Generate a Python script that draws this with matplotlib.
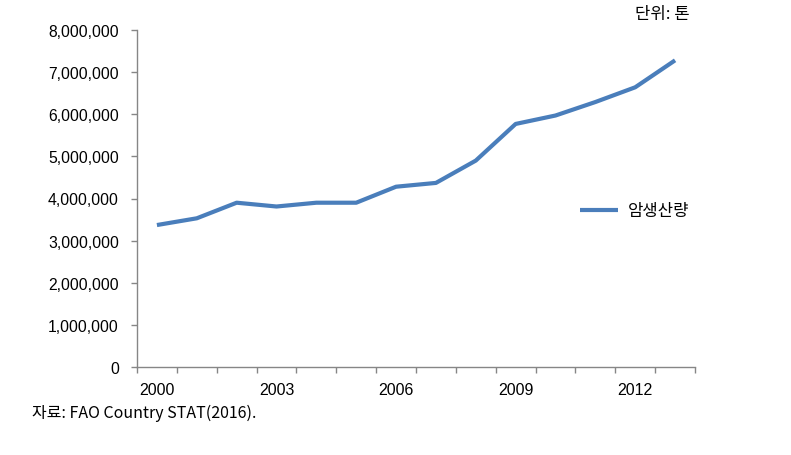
import numpy as np
import matplotlib.pyplot as plt
from matplotlib.ticker import FuncFormatter, FixedLocator

plt.rcParams['font.family'] = ['Liberation Sans', 'Noto Sans CJK KR', 'DejaVu Sans']

# data (tonnes)
years = list(range(2000, 2014))
production = [3370000, 3530000, 3900000, 3810000, 3900000, 3900000, 4280000,
              4370000, 4900000, 5770000, 5970000, 6290000, 6640000, 7280000]
tick_years = [2000, 2003, 2006, 2009, 2012]
series_name = '암생산량'

W, H = 791, 456
fig = plt.figure(figsize=(W / 100, H / 100), dpi=100)
ax = fig.add_axes([137 / W, (H - 368) / H, (695 - 137) / W, (368 - 31) / H])

x = np.arange(len(years))
ax.plot(x, production, color='#4a7ebb', linewidth=3, label=series_name,
        solid_joinstyle='round', solid_capstyle='butt')

ax.set_xlim(-0.5, len(years) - 0.5)
ax.set_ylim(0, 8000000)
ax.yaxis.set_major_locator(FixedLocator(np.arange(0, 8000001, 1000000)))
ax.yaxis.set_major_formatter(FuncFormatter(lambda v, p: f'{int(v):,}'))

# category axis: labels at every 3rd year, tick marks between categories
ax.set_xticks([years.index(y) for y in tick_years])
ax.set_xticklabels([str(y) for y in tick_years])
ax.set_xticks(np.arange(-0.5, len(years), 1), minor=True)
ax.tick_params(axis='x', which='major', length=0, pad=11, labelsize=11.5)
ax.tick_params(axis='x', which='minor', length=4, width=1, color='#868686', direction='out')
ax.tick_params(axis='y', length=4, width=1, color='#868686', direction='out', pad=9, labelsize=11.3)

for s in ['top', 'right']:
    ax.spines[s].set_visible(False)
for s in ['left', 'bottom']:
    ax.spines[s].set_color('#868686')
    ax.spines[s].set_linewidth(1)

ax.legend(loc='center left', bbox_to_anchor=(580 / W, 1 - 212 / H),
          bbox_transform=fig.transFigure, frameon=False, borderpad=0,
          borderaxespad=0, handlelength=2.3, handletextpad=0.6,
          prop={'family': ['Noto Sans CJK KR', 'DejaVu Sans'], 'size': 12})

kr = ['Noto Sans CJK KR', 'DejaVu Sans']
fig.text(690 / W, 1 - 15 / H, '단위: 톤', ha='right', va='center', fontsize=12, family=kr)
fig.text(32 / W, 1 - 413 / H, '자료: FAO Country STAT(2016).', ha='left', va='center',
         fontsize=11.5, family=kr)

fig.savefig('out.png', dpi=100)
